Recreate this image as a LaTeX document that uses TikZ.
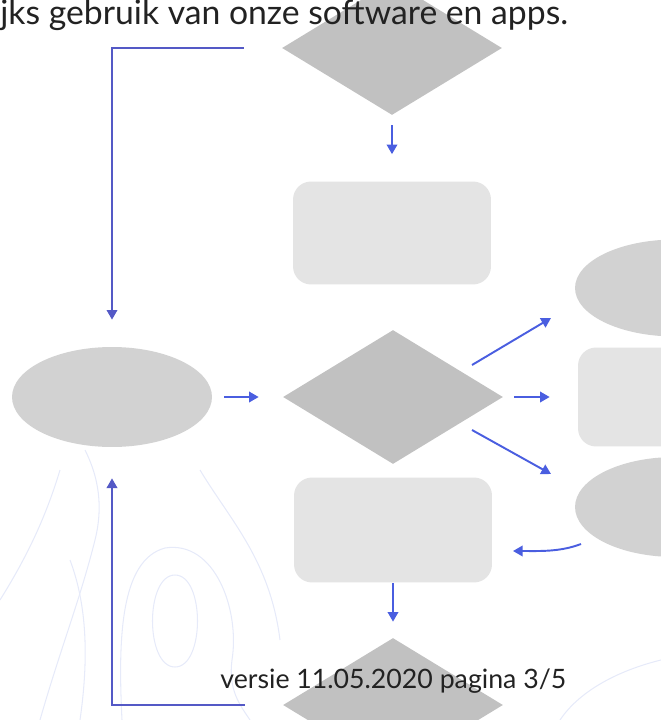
\documentclass[tikz,border=0pt]{standalone}
\usepackage{fontspec}
\setmainfont{Lato}
\usetikzlibrary{positioning, arrows.meta, shapes.geometric}

\definecolor{darkshape}{HTML}{C1C1C1}
\definecolor{midshape}{HTML}{D2D2D2}
\definecolor{lightshape}{HTML}{E4E4E4}
\definecolor{flowblue}{HTML}{4A5EE0}
\definecolor{loopblue}{HTML}{5459C6}
\definecolor{contour}{HTML}{E6EAF9}
\definecolor{textdark}{HTML}{222222}

\tikzset{
  decision/.style={diamond, fill=darkshape, inner sep=0pt, minimum width=4.4cm, minimum height=2.68cm},
  terminal/.style={ellipse, fill=midshape, inner sep=0pt, minimum width=4cm, minimum height=2cm},
  process/.style={rectangle, rounded corners=0.36cm, fill=lightshape, inner sep=0pt, minimum width=3.96cm, minimum height=2.06cm},
  flow/.style={draw=flowblue, line width=1.1pt, -{Triangle[width=6pt,length=5.5pt]}},
  loopline/.style={draw=loopblue, line width=1pt, -{Triangle[width=6pt,length=5.5pt]}},
  contourline/.style={draw=contour, line width=0.6pt},
}

\begin{document}
\begin{tikzpicture}[x=0.02cm, y=-0.02cm]
  \useasboundingbox (0,0) rectangle (661,720);
  \clip (0,0) rectangle (661,720);

  % background contours
  \draw[contourline] (175,575) .. controls (205,575) and (205,667) .. (175,667) .. controls (145,667) and (145,575) .. (175,575);
  \draw[contourline] (122,720) .. controls (118,640) and (120,560) .. (165,548) .. controls (215,540) and (240,610) .. (232,660) .. controls (228,690) and (240,705) .. (250,720);
  \draw[contourline] (40,720) .. controls (60,650) and (80,600) .. (95,540) .. controls (105,500) and (95,470) .. (85,450);
  \draw[contourline] (0,600) .. controls (25,560) and (45,520) .. (60,470);
  \draw[contourline] (80,720) .. controls (90,650) and (85,600) .. (70,560);
  \draw[contourline] (200,470) .. controls (230,520) and (270,560) .. (280,640);
  \draw[contourline] (560,720) .. controls (580,690) and (620,670) .. (661,660);

  % Nodes
  \node[decision] (dtop) at (392,48) {};
  \node[process, minimum height=2.06cm] (ptop) at (392,233) {};
  \node[terminal] (start) at (112,397) {};
  \node[decision] (dmid) at (393,397) {};
  \node[process, minimum height=2.1cm] (pbot) at (393,530) {};
  \node[decision] (dbot) at (393,705) {};
  \node[terminal, minimum height=1.94cm] (eright1) at (675,288) {};
  \node[process, minimum height=1.98cm] (pright) at (677,397) {};
  \node[terminal] (eright2) at (675,507) {};

  \node[anchor=base west, inner sep=0pt, text=textdark, font=\fontsize{19.2}{21}\selectfont] (header) at (0,25) {jks gebruik van onze software en apps.};
  \node[anchor=base west, inner sep=0pt, text=textdark, font=\fontsize{15.2}{17}\selectfont] (footer) at (220,688) {versie 11.05.2020 pagina 3/5};

  \coordinate (upstart) at (472,365);
  \coordinate (upend) at (551,318);
  \coordinate (lowstart) at (472,430);
  \coordinate (lowend) at (551,474);
  \coordinate (backstart) at (581,544);
  \coordinate (backend) at (513,551);

  % Edges
  \draw[flow, shorten <=0.2cm, shorten >=0.54cm] (dtop.south) -- (ptop.north);
  \draw[flow, shorten <=0.24cm, shorten >=0.48cm] (start.east) -- (dmid.west);
  \draw[flow, shorten <=0.22cm, shorten >=0.56cm] (dmid.east) -- (pright.west);
  \draw[flow] (upstart) -- (upend);
  \draw[flow] (lowstart) -- (lowend);
  \draw[flow] (backstart) .. controls (560,552) and (540,551) .. (backend);
  \draw[flow, shorten >=0.32cm] (pbot.south) -- (dbot.north);
  \draw[loopline, shorten >=0.54cm] ([xshift=-0.76cm]dtop.west) -| (start.north);
  \draw[loopline, shorten >=0.62cm] ([xshift=-0.76cm]dbot.west) -| (start.south);
\end{tikzpicture}
\end{document}
